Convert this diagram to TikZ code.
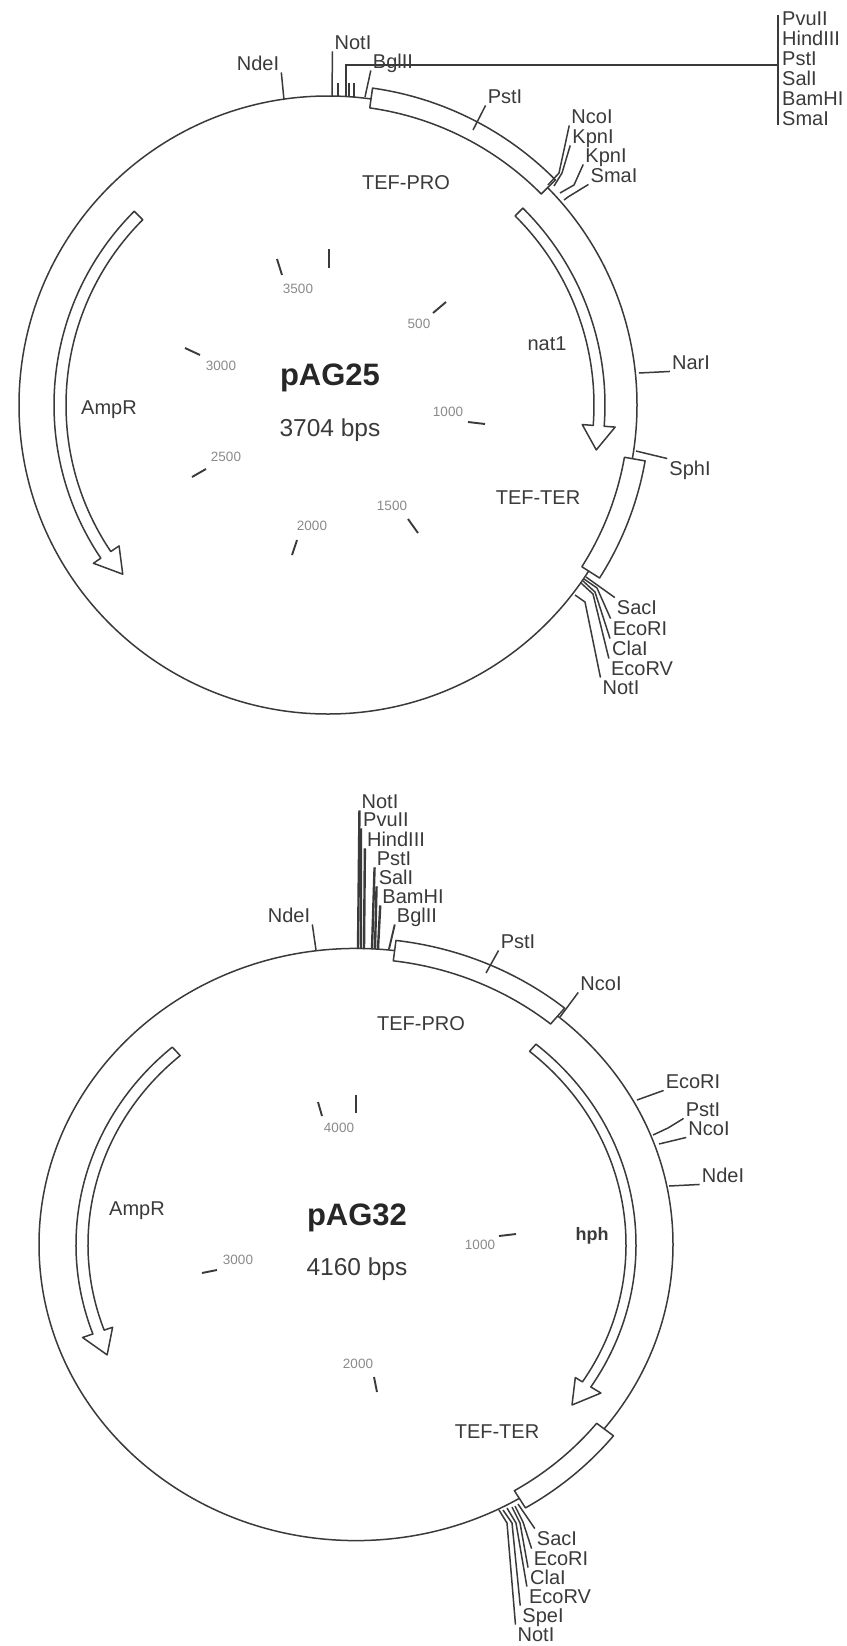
\documentclass[tikz,border=0pt]{standalone}
\usepackage{xcolor}
\usepackage{fontspec}
\setmainfont{Liberation Sans}
\usepackage{tikz}
\definecolor{ink}{HTML}{3A3A3A}
\definecolor{soft}{HTML}{8A8A8A}

\begin{document}
\begin{tikzpicture}[
      x=1pt, y=-1pt,
      dna/.style={draw=ink, line width=1.5pt},
      part/.style={draw=ink, line width=1.5pt, fill=white, line join=round},
      tick/.style={draw=ink, line width=1.5pt},
      ruler/.style={draw=ink, line width=1.9pt},
      bundle/.style={draw=ink, line width=2.4pt},
      site/.style={text=ink, inner sep=2pt, text height=14.5pt, text depth=0pt, font=\fontsize{20}{22}\selectfont},
      gene/.style={site},
      count/.style={text=soft, inner sep=1pt, font=\fontsize{13.5}{15}\selectfont},
      plasmid/.style={text=black!85, font=\bfseries\fontsize{31}{33}\selectfont},
      size/.style={text=ink, font=\fontsize{24.5}{27}\selectfont},
    ]
    \useasboundingbox (0,0) rectangle (846,1646);

    % pAG25
    \begin{scope}[shift={(328,405)}]
      \draw[dna] (0,0) circle[radius=309];
      \draw[part] (-82:320) arc[start angle=-82, end angle=-44.7, radius=320] -- (-44.7:300) arc[start angle=-44.7, end angle=-82, radius=300] -- cycle;
      \draw[part] (10:322) arc[start angle=10, end angle=32.5, radius=322] -- (32.5:301) arc[start angle=32.5, end angle=10, radius=301] -- cycle;
      \draw[part] (-45.3:277) arc[start angle=-45.3, end angle=4.4, radius=277] -- (4.4:288) -- (9.5:272) -- (4.4:255) -- (4.4:266) arc[start angle=4.4, end angle=-45.3, radius=266] -- cycle;
      \draw[part] (225:274) arc[start angle=225, end angle=146, radius=274] -- (146:283) -- (140.5:266) -- (146:252) -- (146:262) arc[start angle=146, end angle=225, radius=262] -- cycle;
    \end{scope}

    \node[plasmid] (name25) at (330,378) {pAG25};
    \node[size] (size25) at (330,430) {3704 bps};
    \node[gene] (pro25) at (406,182) {TEF-PRO};
    \node[gene] (ter25) at (538,497) {TEF-TER};
    \node[gene] (nat25) at (547,343) {nat1};
    \node[gene] (amp25) at (109,407) {AmpR};

    \node[site] (ndeA) at (258,63) {NdeI};
    \node[site] (notA) at (353,42) {NotI};
    \node[site] (bglA) at (393,61) {BglII};
    \node[site] (pstA) at (505,96) {PstI};
    \node[site] (ncoA) at (592,116) {NcoI};
    \node[site] (kpnA) at (593,136) {KpnI};
    \node[site] (kpnB) at (606,155) {KpnI};
    \node[site] (smaA) at (614,175) {SmaI};
    \node[site] (narA) at (691,362) {NarI};
    \node[site] (sphA) at (690,468) {SphI};
    \node[site] (sacA) at (637,607) {SacI};
    \node[site] (ecoA) at (640,628) {EcoRI};
    \node[site] (claA) at (630,648) {ClaI};
    \node[site] (ecvA) at (642,668) {EcoRV};
    \node[site] (ntbA) at (621,687) {NotI};

    \node[site, anchor=west] (mcsA) at (780,18) {PvuII};
    \node[site, anchor=west] (mcsB) at (780,38) {HindIII};
    \node[site, anchor=west] (mcsC) at (780,58) {PstI};
    \node[site, anchor=west] (mcsD) at (780,78) {SalI};
    \node[site, anchor=west] (mcsE) at (780,98) {BamHI};
    \node[site, anchor=west] (mcsF) at (780,118) {SmaI};

    \coordinate (ndeAf) at (284,100);
    \coordinate (notAf) at (332,97);
    \coordinate (bglAf) at (365,97);
    \coordinate (pstAf) at (473,130);
    \coordinate (ncoAf) at (548,185);
    \coordinate (ncoAm) at (559,173);
    \coordinate (kpnAf) at (554,186);
    \coordinate (kpnAm) at (562,173);
    \coordinate (kpnBf) at (560,193);
    \coordinate (kpnBm) at (574,185);
    \coordinate (smaAf) at (564,200);
    \coordinate (smaAm) at (568,197);
    \coordinate (narAf) at (639,373);
    \coordinate (sphAf) at (636,451);
    \coordinate (sacAf) at (586,577);
    \coordinate (ecoAf) at (584,579);
    \coordinate (ecoAm) at (597,588);
    \coordinate (claAf) at (583,581);
    \coordinate (claAm) at (595,592);
    \coordinate (ecvAf) at (581,583);
    \coordinate (ecvAm) at (593,594);
    \coordinate (ntbAf) at (575,595);
    \coordinate (ntbAm) at (585,602);

    \draw[tick] (ndeAf) -- (ndeA.south east);
    \draw[tick] (notAf) -- (notA.south west);
    \draw[tick] (bglAf) -- (bglA.south west);
    \draw[tick] (pstAf) -- (pstA.south west);
    \draw[tick] (ncoAf) -- (ncoAm) -- (ncoA.south west);
    \draw[tick] (kpnAf) -- (kpnAm) -- (kpnA.south west);
    \draw[tick] (kpnBf) -- (kpnBm) -- (kpnB.south west);
    \draw[tick] (smaAf) -- (smaAm) -- (smaA.south west);
    \draw[tick] (narAf) -- (narA.south west);
    \draw[tick] (sphAf) -- (sphA.north west);
    \draw[tick] (sacAf) -- (sacA.north west);
    \draw[tick] (ecoAf) -- (ecoAm) -- (ecoA.north west);
    \draw[tick] (claAf) -- (claAm) -- (claA.north west);
    \draw[tick] (ecvAf) -- (ecvAm) -- (ecvA.north west);
    \draw[tick] (ntbAf) -- (ntbAm) -- (ntbA.north west);

    \coordinate (barTop) at (778,15);
    \coordinate (barMid) at (778,65);
    \coordinate (barLow) at (778,125);
    \coordinate (mcsFoot) at (346,97);
    \draw[tick] (barTop) -- (barLow);
    \draw[tick] (mcsFoot) |- (barMid);
    \coordinate (stubA) at (338,97);
    \coordinate (stubAt) at (338,83);
    \coordinate (stubB) at (349,97);
    \coordinate (stubBt) at (349,83);
    \coordinate (stubC) at (354,97);
    \coordinate (stubCt) at (354,83);
    \draw[bundle] (stubA) -- (stubAt);
    \draw[bundle] (stubB) -- (stubBt);
    \draw[bundle] (stubC) -- (stubCt);

    % ruler marks
    \node[count] (c3500) at (298,289) {3500};
    \node[count] (c500) at (419,324) {500};
    \node[count] (c1000) at (448,412) {1000};
    \node[count] (c1500) at (392,506) {1500};
    \node[count] (c2000) at (312,526) {2000};
    \node[count] (c2500) at (226,457) {2500};
    \node[count] (c3000) at (221,366) {3000};
    \coordinate (m0a) at (329,249);      \coordinate (m0b) at (329,268);
    \coordinate (m3500a) at (277,259);   \coordinate (m3500b) at (282,275);
    \coordinate (m500a) at (446,302);    \coordinate (m500b) at (433,313);
    \coordinate (m1000a) at (468,422);   \coordinate (m1000b) at (485,424);
    \coordinate (m1500a) at (408,519);   \coordinate (m1500b) at (418,533);
    \coordinate (m2000a) at (297,540);   \coordinate (m2000b) at (292,555);
    \coordinate (m2500a) at (206,469);   \coordinate (m2500b) at (192,477);
    \coordinate (m3000a) at (185,348);   \coordinate (m3000b) at (200,355);
    \draw[ruler] (m0a) -- (m0b);
    \draw[ruler] (m3500a) -- (m3500b);
    \draw[ruler] (m500a) -- (m500b);
    \draw[ruler] (m1000a) -- (m1000b);
    \draw[ruler] (m1500a) -- (m1500b);
    \draw[ruler] (m2000a) -- (m2000b);
    \draw[ruler] (m2500a) -- (m2500b);
    \draw[ruler] (m3000a) -- (m3000b);

    % pAG32
    \begin{scope}[shift={(356,1244.5)}, yscale=0.934]
      \draw[dna] (0,0) circle[radius=317];
      \draw[part] (-83:328) arc[start angle=-83, end angle=-50.5, radius=328] -- (-50.5:306) arc[start angle=-50.5, end angle=-83, radius=306] -- cycle;
      \draw[part] (38.5:329) arc[start angle=38.5, end angle=59, radius=329] -- (59:307.5) arc[start angle=59, end angle=38.5, radius=307.5] -- cycle;
      \draw[part] (-50:280) arc[start angle=-50, end angle=33, radius=280] -- (33:292) -- (38.5:276) -- (33:261.5) -- (33:270) arc[start angle=33, end angle=-50, radius=270] -- cycle;
      \draw[part] (229:280) arc[start angle=229, end angle=160, radius=280] -- (160:291) -- (154.6:275.5) -- (160:259) -- (160:268) arc[start angle=160, end angle=229, radius=268] -- cycle;
    \end{scope}

    \node[plasmid] (name32) at (357,1218) {pAG32};
    \node[size] (size32) at (357,1269) {4160 bps};
    \node[gene] (pro32) at (421,1023) {TEF-PRO};
    \node[gene] (ter32) at (497,1431) {TEF-TER};
    \node[gene, font=\bfseries\fontsize{18}{20}\selectfont] (hph32) at (592,1233) {hph};
    \node[gene] (amp32) at (137,1208) {AmpR};

    \node[site] (ndeP) at (289,915) {NdeI};
    \node[site] (notP) at (380,801) {NotI};
    \node[site] (pvuP) at (386,819) {PvuII};
    \node[site] (hinP) at (396,839) {HindIII};
    \node[site] (pstP) at (394,858) {PstI};
    \node[site] (salP) at (396,877) {SalI};
    \node[site] (bamP) at (413,896) {BamHI};
    \node[site] (bglP) at (417,915) {BglII};
    \node[site] (psuP) at (518,941) {PstI};
    \node[site] (ncoP) at (601,983) {NcoI};
    \node[site] (ecrP) at (693,1081) {EcoRI};
    \node[site] (psvP) at (703,1109) {PstI};
    \node[site] (ncvP) at (709,1128) {NcoI};
    \node[site] (ndvP) at (723,1175) {NdeI};
    \node[site] (sacP) at (557,1538) {SacI};
    \node[site] (ecoP) at (561,1558) {EcoRI};
    \node[site] (claP) at (548,1577) {ClaI};
    \node[site] (ecvP) at (560,1596) {EcoRV};
    \node[site] (speP) at (543,1615) {SpeI};
    \node[site] (ntbP) at (536,1634) {NotI};

    \coordinate (ndePf) at (316,950);
    \coordinate (notPf) at (358,949);
    \coordinate (pvuPf) at (361,949);
    \coordinate (hinPf) at (364,949);
    \coordinate (pstPf) at (372,949);
    \coordinate (salPf) at (375,949);
    \coordinate (bamPf) at (378,949);
    \coordinate (bglPf) at (389,949);
    \coordinate (psuPf) at (486,973);
    \coordinate (ncoPf) at (560,1017);
    \coordinate (ecrPf) at (637,1100);
    \coordinate (psvPf) at (653,1135);
    \coordinate (psvPm) at (668,1128);
    \coordinate (ncvPf) at (659,1144);
    \coordinate (ndvPf) at (669,1186);
    \coordinate (sacPf) at (518,1504);
    \coordinate (ecoPf) at (515,1506);
    \coordinate (ecoPm) at (523,1522);
    \coordinate (claPf) at (512,1507);
    \coordinate (claPm) at (520,1523);
    \coordinate (ecvPf) at (507,1508);
    \coordinate (ecvPm) at (516,1523);
    \coordinate (spePf) at (503,1510);
    \coordinate (spePm) at (512,1523);
    \coordinate (ntbPf) at (499,1510);
    \coordinate (ntbPm) at (507,1523);

    \draw[tick] (ndePf) -- (ndeP.south east);
    \draw[bundle] (notPf) -- (notP.south west);
    \draw[bundle] (pvuPf) -- (pvuP.south west);
    \draw[bundle] (hinPf) -- (hinP.south west);
    \draw[bundle] (pstPf) -- (pstP.south west);
    \draw[bundle] (salPf) -- (salP.south west);
    \draw[bundle] (bamPf) -- (bamP.south west);
    \draw[ruler] (bglPf) -- (bglP.south west);
    \draw[tick] (psuPf) -- (psuP.south west);
    \draw[tick] (ncoPf) -- (ncoP.south west);
    \draw[tick] (ecrPf) -- (ecrP.south west);
    \draw[tick] (psvPf) -- (psvPm) -- (psvP.south west);
    \draw[tick] (ncvPf) -- (ncvP.south west);
    \draw[tick] (ndvPf) -- (ndvP.south west);
    \draw[tick] (sacPf) -- (sacP.north west);
    \draw[tick] (ecoPf) -- (ecoPm) -- (ecoP.north west);
    \draw[tick] (claPf) -- (claPm) -- (claP.north west);
    \draw[tick] (ecvPf) -- (ecvPm) -- (ecvP.north west);
    \draw[tick] (spePf) -- (spePm) -- (speP.north west);
    \draw[tick] (ntbPf) -- (ntbPm) -- (ntbP.north west);

    % ruler marks
    \node[count] (d4000) at (339,1128) {4000};
    \node[count] (d1000) at (480,1245) {1000};
    \node[count] (d2000) at (358,1364) {2000};
    \node[count] (d3000) at (238,1260) {3000};
    \coordinate (n0a) at (356,1095);     \coordinate (n0b) at (356,1113);
    \coordinate (n4000a) at (318,1102);  \coordinate (n4000b) at (322,1116);
    \coordinate (n1000a) at (499,1236);  \coordinate (n1000b) at (516,1234);
    \coordinate (n2000a) at (374,1377);  \coordinate (n2000b) at (377,1392);
    \coordinate (n3000a) at (217,1270);  \coordinate (n3000b) at (202,1273);
    \draw[ruler] (n0a) -- (n0b);
    \draw[ruler] (n4000a) -- (n4000b);
    \draw[ruler] (n1000a) -- (n1000b);
    \draw[ruler] (n2000a) -- (n2000b);
    \draw[ruler] (n3000a) -- (n3000b);
  \end{tikzpicture}
\end{document}
